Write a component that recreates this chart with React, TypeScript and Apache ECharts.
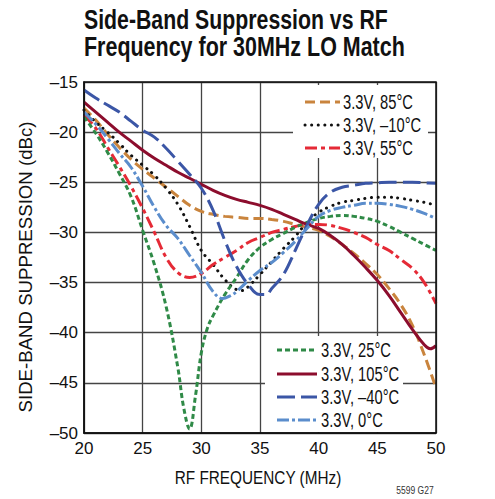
import React, { useEffect, useRef } from "react";
import * as echarts from "echarts";

const xTicks = [20, 25, 30, 35, 40, 45, 50];
const yTicks = [-15, -20, -25, -30, -35, -40, -45, -50];

const f85 = [20,21,22,23,24,25,26,27,28,29,30,31,32,33,34,35,36,37,38,39,40,41,42,43,44,45,46,47,48,49,50];
const v85 = [-17.6,-18.8,-20.2,-21.5,-22.7,-23.7,-24.6,-25.5,-26.4,-27.3,-27.9,-28.2,-28.4,-28.5,-28.6,-28.6,-28.7,-28.9,-29.2,-29.5,-29.8,-30.4,-31.2,-32.1,-33.1,-34.2,-35.6,-37.2,-39.3,-42.2,-45.5];

const fM10 = [20,21,22,23,24,25,26,27,28,29,30,31,32,33,33.5,34,35,36,37,38,39,40,41,42,43,44,45,46,47,48,49,50];
const vM10 = [-17.8,-19.0,-20.0,-21.1,-22.3,-23.3,-24.3,-25.6,-27.2,-29.4,-31.8,-33.2,-34.7,-35.7,-35.8,-35.4,-34.2,-32.9,-31.6,-30.4,-29.0,-28.0,-27.4,-27.0,-26.8,-26.6,-26.5,-26.5,-26.6,-26.8,-27.0,-27.3];

const f55 = [20,21,22,23,24,25,26,27,28,29,30,31,32,33,34,35,36,37,38,39,40,41,42,43,44,45,46,47,48,49,50];
const v55 = [-18.3,-19.6,-21.5,-23.4,-25.4,-27.6,-30.0,-32.5,-34.0,-34.5,-34.1,-33.2,-32.5,-31.8,-31.0,-30.5,-30.0,-29.7,-29.4,-29.2,-29.2,-29.3,-29.6,-30.0,-30.5,-31.2,-31.8,-32.7,-33.6,-35.0,-37.1];

const f25 = [20,21,22,23,24,25,26,27,28,28.5,29,29.5,30,30.5,31,32,33,34,35,36,37,38,39,40,41,42,43,44,45,46,47,48,49,50];
const v25 = [-18.5,-20.1,-22.0,-24.1,-26.4,-29.8,-33.2,-37.4,-43.5,-47.5,-49.6,-46.3,-42.0,-39.6,-38.3,-36.2,-34.5,-32.7,-31.5,-30.7,-30.1,-29.5,-29.0,-28.6,-28.4,-28.3,-28.4,-28.6,-28.9,-29.4,-30.0,-30.6,-31.2,-31.8];

const f105 = [20,21,22,23,24,25,26,27,28,29,30,31,32,33,34,35,36,37,38,39,40,41,42,43,44,45,46,47,48,49,49.5,50];
const v105 = [-17.0,-18.0,-19.0,-20.0,-20.9,-21.8,-22.6,-23.3,-24.0,-24.6,-25.2,-25.8,-26.3,-26.7,-27.0,-27.3,-27.7,-28.2,-28.7,-29.2,-29.6,-30.3,-31.2,-32.3,-33.5,-34.8,-36.3,-38.0,-39.7,-41.2,-41.6,-41.3];

const fM40 = [20,21,22,23,24,25,26,27,28,29,30,31,32,33,34,35,35.5,36,37,38,39,40,41,42,43,44,45,46,47,48,49,50];
const vM40 = [-15.8,-16.6,-17.3,-18.0,-18.9,-19.8,-20.5,-21.6,-22.9,-24.2,-25.6,-27.8,-30.8,-33.4,-35.2,-36.2,-36.2,-35.6,-34.2,-31.8,-29.3,-27.2,-26.0,-25.5,-25.3,-25.1,-25.05,-25.0,-25.0,-25.0,-25.05,-25.1];

const f0 = [20,21,22,23,24,25,26,27,28,29,30,31,31.8,32.5,33,34,35,36,37,38,39,40,41,42,43,44,45,46,47,48,49,50];
const v0 = [-18.0,-19.2,-20.6,-22.1,-23.5,-25.4,-27.5,-29.3,-30.6,-32.3,-34.0,-35.9,-36.6,-36.3,-35.9,-34.8,-33.8,-33.0,-32.0,-30.9,-29.6,-28.4,-27.8,-27.5,-27.3,-27.1,-27.1,-27.2,-27.4,-27.7,-28.1,-28.6];

const titleLines = ["Side-Band Suppression vs RF", "Frequency for 30MHz LO Match"];
const xAxisTitle = "RF FREQUENCY (MHz)";
const yAxisTitle = "SIDE-BAND SUPPRESSION (dBc)";
const figureCode = "5599 G27";

const FONT = "'Liberation Sans', Arial, sans-serif";

const pairs = (xs: number[], ys: number[]) => xs.map((x, i) => [x, ys[i]]);

const seriesDefs = [
  { name: "3.3V, 85°C", xs: f85, ys: v85, color: "#C9843D", dash: [10, 5], cap: "butt" },
  { name: "3.3V, –10°C", xs: fM10, ys: vM10, color: "#111111", dash: [0.1, 6.5], cap: "round" },
  { name: "3.3V, 55°C", xs: f55, ys: v55, color: "#E52A36", dash: [12, 4, 4, 4], cap: "butt" },
  { name: "3.3V, 25°C", xs: f25, ys: v25, color: "#2F8A47", dash: [5, 3], cap: "butt" },
  { name: "3.3V, 105°C", xs: f105, ys: v105, color: "#8C0D2D", dash: null, cap: "butt" },
  { name: "3.3V, –40°C", xs: fM40, ys: vM40, color: "#3B56A6", dash: [18, 6], cap: "butt" },
  { name: "3.3V, 0°C", xs: f0, ys: v0, color: "#5B8DCC", dash: [12, 3, 3, 3], cap: "butt" },
];

function measure(text: string, font: string): number {
  const c = document.createElement("canvas").getContext("2d");
  if (!c) return text.length * 10;
  c.font = font;
  return c.measureText(text).width;
}

export default function App() {
  const ref = useRef<HTMLDivElement>(null);
  useEffect(() => {
    if (!ref.current) return;
    const chart = echarts.init(ref.current, null, { renderer: "svg" });

    const titleFont = "bold 28px " + FONT;
    const t1 = 304 / measure(titleLines[0], titleFont);
    const t2 = 321 / measure(titleLines[1], titleFont);
    const axFont = "19px " + FONT;
    const sx = 167 / measure(xAxisTitle, axFont);
    const sy = 291 / measure(yAxisTitle, axFont);
    const legFont = "19.5px " + FONT;
    const legScale = 70 / measure(seriesDefs[0].name, legFont);

    const legendGraphics: any[] = [];
    legendGraphics.push({
      type: "rect",
      shape: { x: 293, y: 85, width: 135, height: 73 },
      style: { fill: "#ffffff" },
      z: 10,
    });
    legendGraphics.push({
      type: "rect",
      shape: { x: 265, y: 336, width: 138, height: 96 },
      style: { fill: "#ffffff" },
      z: 10,
    });
    const upperRows = [102, 125, 148];
    const lowerRows = [350, 374, 397, 420];
    seriesDefs.forEach((s, i) => {
      const upper = i < 3;
      const y = upper ? upperRows[i] : lowerRows[i - 3];
      const x1 = upper ? 305 : 277;
      const x2 = upper ? 340 : 317;
      const tx = upper ? 343 : 321;
      legendGraphics.push({
        type: "line",
        shape: { x1, y1: y, x2, y2: y },
        style: { stroke: s.color, lineWidth: 3, lineDash: s.dash || undefined, lineCap: s.cap },
        z: 11,
      });
      legendGraphics.push({
        type: "text",
        x: tx,
        y: y,
        scaleX: legScale,
        z: 11,
        style: { text: s.name, x: 0, y: 0, font: legFont, fill: "#111", align: "left", verticalAlign: "middle" },
      });
    });

    chart.setOption({
      animation: false,
      backgroundColor: "#ffffff",
      grid: { left: 84, right: 59, top: 82, bottom: 66, show: false },
      xAxis: {
        type: "value",
        min: xTicks[0],
        max: xTicks[xTicks.length - 1],
        interval: 5,
        axisLine: { show: true, onZero: false, lineStyle: { color: "#111", width: 1.5 } },
        axisTick: { show: false },
        axisLabel: { fontFamily: FONT, fontSize: 17, color: "#111", margin: 7, formatter: (v: number) => String(v) },
        splitLine: { show: true, lineStyle: { color: "#444", width: 1.3 } },
      },
      yAxis: {
        type: "value",
        min: yTicks[yTicks.length - 1],
        max: yTicks[0],
        interval: 5,
        axisLine: { show: true, onZero: false, lineStyle: { color: "#111", width: 1.5 } },
        axisTick: { show: false },
        axisLabel: { fontFamily: FONT, fontSize: 17, color: "#111", margin: 6, formatter: (v: number) => String(v).replace("-", "–") },
        splitLine: { show: true, lineStyle: { color: "#444", width: 1.3 } },
      },
      series: seriesDefs.map((s) => ({
        name: s.name,
        type: "line",
        data: pairs(s.xs, s.ys),
        smooth: 0.4,
        symbol: "none",
        showSymbol: false,
        color: s.color,
        lineStyle: { color: s.color, width: 3, type: s.dash ? s.dash : "solid", cap: s.cap },
      })),
      graphic: [
        {
          type: "text",
          x: 84,
          y: 19,
          scaleX: t1,
          style: { text: titleLines[0], x: 0, y: 0, font: titleFont, fill: "#111", align: "left", verticalAlign: "middle" },
        },
        {
          type: "text",
          x: 84,
          y: 46,
          scaleX: t2,
          style: { text: titleLines[1], x: 0, y: 0, font: titleFont, fill: "#111", align: "left", verticalAlign: "middle" },
        },
        {
          type: "text",
          x: 258,
          y: 477,
          scaleX: sx,
          style: { text: xAxisTitle, x: 0, y: 0, font: axFont, fill: "#111", align: "center", verticalAlign: "middle" },
        },
        {
          type: "text",
          x: 25,
          y: 267,
          rotation: Math.PI / 2,
          scaleX: sy,
          style: { text: yAxisTitle, x: 0, y: 0, font: axFont, fill: "#111", align: "center", verticalAlign: "middle" },
        },
        {
          type: "rect",
          shape: { x: 84, y: 82, width: 352, height: 351 },
          style: { fill: "none", stroke: "#111", lineWidth: 1.5 },
          silent: true,
          z: 12,
        },
        ...legendGraphics,
        {
          type: "text",
          x: 415,
          y: 491,
          scaleX: 0.85,
          style: { text: figureCode, x: 0, y: 0, font: "10px " + FONT, fill: "#333", align: "center", verticalAlign: "middle" },
        },
      ],
    });
    return () => chart.dispose();
  }, []);
  return <div ref={ref} style={{ position: "fixed", left: 0, top: 0, width: 495, height: 499 }} />;
}
